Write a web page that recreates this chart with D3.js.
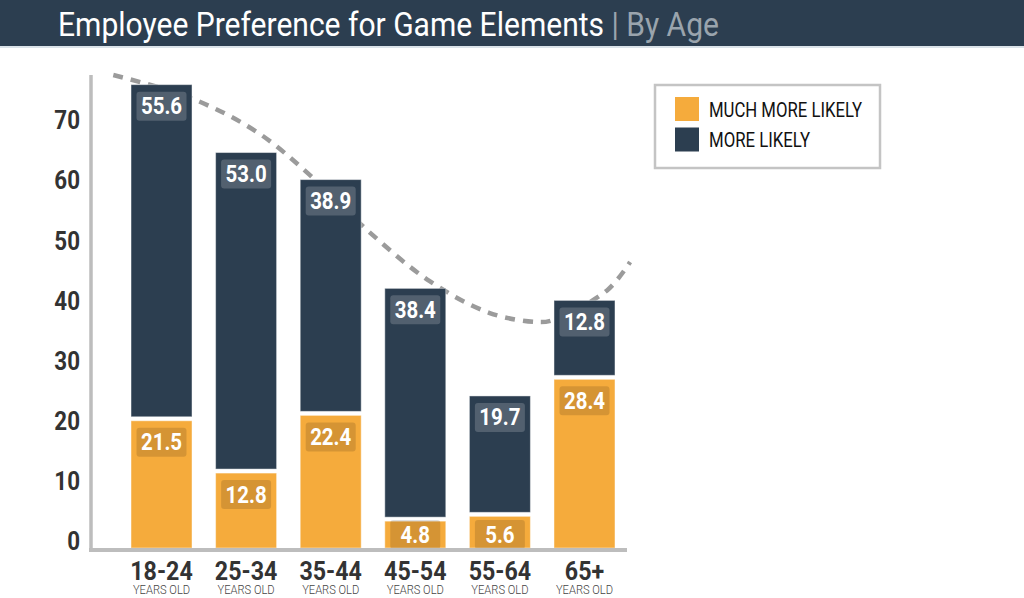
<!DOCTYPE html>
<html>
<head>
<meta charset="utf-8">
<script src="https://cdn.jsdelivr.net/npm/d3@7"></script>
<style>
  html, body { margin: 0; padding: 0; background: #fff; }
  svg { display: block; font-family: Roboto, "Noto Sans", sans-serif; }
</style>
</head>
<body>
<svg id="chart" width="1024" height="598"></svg>
<script>
// ---------- data ----------
const titleMain = "Employee Preference for Game Elements";
const titleSub = " | By Age";
const categories = ["18-24", "25-34", "35-44", "45-54", "55-64", "65+"];
const categorySubLabel = "YEARS OLD";
const seriesNames = ["MUCH MORE LIKELY", "MORE LIKELY"];
const muchMoreLikely = [21.5, 12.8, 22.4, 4.8, 5.6, 28.4];
const moreLikely = [55.6, 53.0, 38.9, 38.4, 19.7, 12.8];
const yTicks = [0, 10, 20, 30, 40, 50, 60, 70];
// dashed trend curve: position in category units (0 = first bar), value
const trendPos = [-0.57, 0.34, 1.13, 1.79, 2.47, 3.17, 3.88, 4.44, 4.62, 5.27, 5.54];
const trendVal = [78.7, 74.9, 69.2, 61.6, 52.4, 44.4, 39.1, 37.6, 37.9, 42.9, 47.6];

// ---------- styles ----------
const ORANGE = "#f5ab3c";
const NAVY = "#2c3e50";
const AXIS = "#bdbdbd";

const svg = d3.select("#chart");

function condense(sel, k) {
  sel.each(function () {
    const w = this.getComputedTextLength();
    d3.select(this).attr("textLength", w * k).attr("lengthAdjust", "spacingAndGlyphs");
  });
}
function fitTo(sel, w) {
  sel.attr("textLength", w).attr("lengthAdjust", "spacingAndGlyphs");
}

// ---------- title bar ----------
svg.append("rect").attr("x", 0).attr("y", 0).attr("width", 1024).attr("height", 46).attr("fill", NAVY);
svg.append("rect").attr("x", 0).attr("y", 46).attr("width", 1024).attr("height", 2).attr("fill", "#dbe3e9");
const title = svg.append("text").attr("x", 58).attr("y", 36).attr("font-size", 33);
title.append("tspan").attr("fill", "#fff").text(titleMain);
title.append("tspan").attr("fill", "#9aa4ad").text(titleSub);
title.call(fitTo, 661);

// ---------- scales ----------
const x = d3.scaleBand().domain(categories).range([91, 655]).paddingInner(0.279).paddingOuter(0.473);
const y = d3.scaleLinear().domain([0, 70]).range([548, 127.3]);
const bw = x.bandwidth();
const cx = c => x(c) + bw / 2;
const posX = d3.scaleLinear().domain([0, 1]).range([cx(categories[0]), cx(categories[0]) + x.step()]);

// ---------- trend line (behind bars) ----------
const trend = trendPos.map((p, i) => [posX(p), y(trendVal[i])]);
svg.append("path")
  .attr("d", d3.line().curve(d3.curveCatmullRom.alpha(0.5))(trend))
  .attr("fill", "none").attr("stroke", "#9b9b9b").attr("stroke-width", 4.5)
  .attr("stroke-dasharray", "10,8");

// ---------- bars ----------
const rows = categories.map((c, i) => ({ c, a: muchMoreLikely[i], b: moreLikely[i] }));
const g = svg.append("g");

g.selectAll("rect.orange").data(rows).join("rect").attr("class", "orange")
  .attr("x", d => x(d.c)).attr("width", bw)
  .attr("y", d => y(d.a) + 2).attr("height", d => y(0) - y(d.a) - 2)
  .attr("fill", ORANGE).attr("stroke", "#fff").attr("stroke-opacity", 0.45).attr("stroke-width", 1);
g.selectAll("rect.navy").data(rows).join("rect").attr("class", "navy")
  .attr("x", d => x(d.c)).attr("width", bw)
  .attr("y", d => y(d.a + d.b)).attr("height", d => y(d.a) - y(d.a + d.b) - 2)
  .attr("fill", NAVY).attr("stroke", "#fff").attr("stroke-opacity", 0.45).attr("stroke-width", 1);

// value labels
function boxTop(top) { return Math.min(top + 7, y(0) - 28); }
const labels = [];
rows.forEach(d => {
  labels.push({ c: d.c, v: d.a, top: y(d.a) + 2, fill: "rgba(0,0,0,0.13)" });
  labels.push({ c: d.c, v: d.b, top: y(d.a + d.b), fill: "rgba(255,255,255,0.18)" });
});
const lg = g.selectAll("g.lab").data(labels).join("g").attr("class", "lab");
lg.append("rect")
  .attr("x", d => cx(d.c) - 25).attr("width", 50)
  .attr("y", d => boxTop(d.top)).attr("height", 29)
  .attr("rx", 3).attr("fill", d => d.fill);
lg.append("text")
  .attr("x", d => cx(d.c)).attr("y", d => boxTop(d.top) + 22.5)
  .attr("text-anchor", "middle").attr("fill", "#fff")
  .attr("font-size", 23.5).attr("font-weight", 700)
  .text(d => d.v.toFixed(1)).call(condense, 0.87);

// ---------- axes ----------
svg.append("line").attr("x1", 91).attr("x2", 91).attr("y1", 75).attr("y2", 552)
  .attr("stroke", AXIS).attr("stroke-width", 3.5);
svg.append("line").attr("x1", 89).attr("x2", 627).attr("y1", 550).attr("y2", 550)
  .attr("stroke", AXIS).attr("stroke-width", 4);

svg.append("g").selectAll("text").data(yTicks).join("text")
  .attr("x", 80).attr("y", d => y(d) + 2)
  .attr("text-anchor", "end").attr("fill", "#333")
  .attr("font-size", 26).attr("font-weight", 700)
  .text(d => d).call(condense, 0.86);

const xl = svg.append("g").selectAll("text").data(categories).join("text")
  .attr("transform", d => `translate(${cx(d)},0) scale(0.93,1)`)
  .attr("text-anchor", "middle");
xl.append("tspan").attr("x", 0).attr("y", 580).attr("fill", "#333")
  .attr("font-size", 25).attr("font-weight", 700).text(d => d);
xl.append("tspan").attr("x", 0).attr("y", 594).attr("fill", "#444")
  .attr("font-size", 12).attr("font-weight", 300).text(categorySubLabel);

// ---------- legend ----------
const leg = svg.append("g");
leg.append("rect").attr("x", 655).attr("y", 85).attr("width", 225).attr("height", 83)
  .attr("fill", "#fff").attr("stroke", "#c4c4c4").attr("stroke-width", 2.5);
const legColors = [ORANGE, NAVY];
const legWidths = [153, 101];
const li = leg.selectAll("g.item").data(seriesNames).join("g").attr("class", "item");
li.append("rect").attr("x", 675).attr("y", (d, i) => 97 + i * 30.5)
  .attr("width", 24).attr("height", 24).attr("fill", (d, i) => legColors[i]);
li.append("text").attr("x", 709).attr("y", (d, i) => 116.5 + i * 30)
  .attr("fill", "#111").attr("font-size", 20)
  .text(d => d).each(function (d, i) { fitTo(d3.select(this), legWidths[i]); });
</script>
</body>
</html>
